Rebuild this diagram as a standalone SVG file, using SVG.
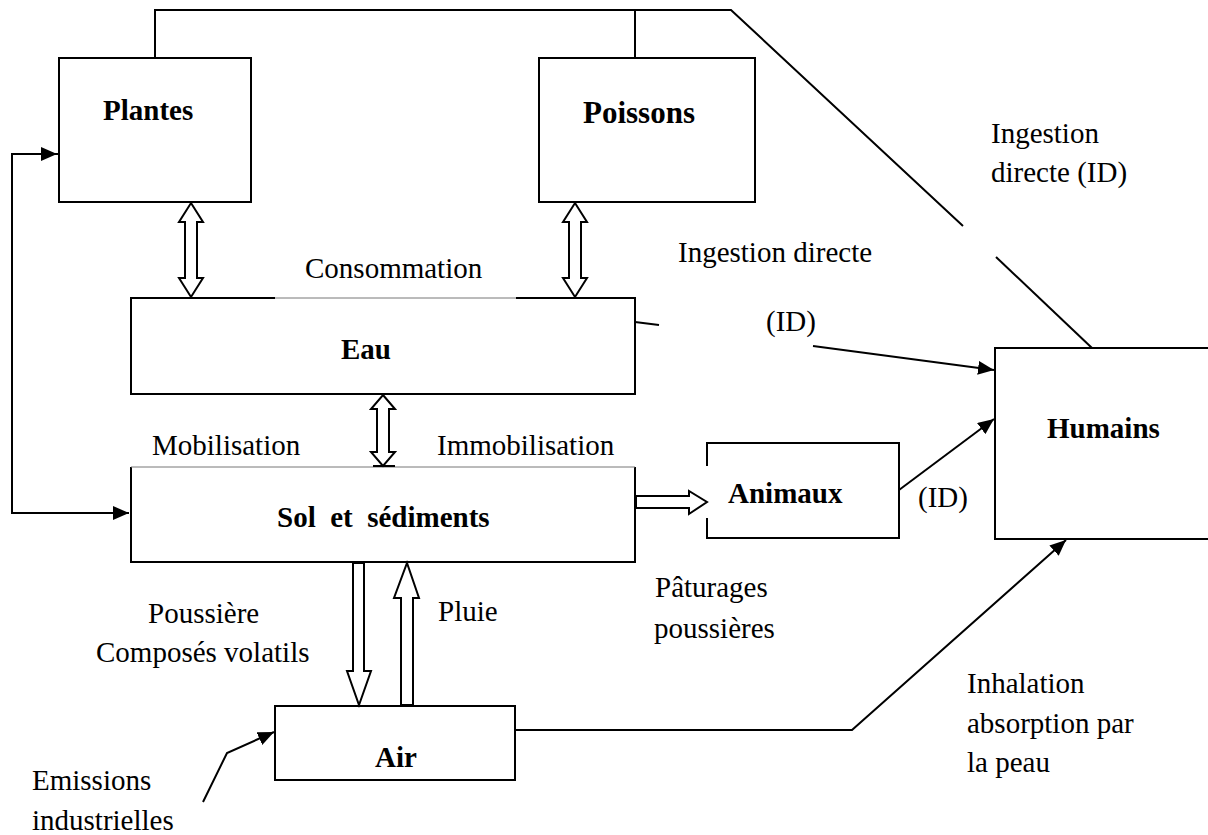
<svg xmlns="http://www.w3.org/2000/svg" width="1208" height="835" viewBox="0 0 1208 835">
<style>
text{font-family:"Liberation Serif","Times New Roman",serif;font-size:29px;fill:#000}
.b{font-weight:bold}
.box{fill:none;stroke:#000;stroke-width:2}
.thin{fill:none;stroke:#777;stroke-width:1}
.ln{fill:none;stroke:#000;stroke-width:2}
.blk{fill:#fff;stroke:#000;stroke-width:2;stroke-linejoin:miter}
</style>
<defs>
<marker id="ah" markerUnits="userSpaceOnUse" markerWidth="17" markerHeight="14" refX="16" refY="7" orient="auto">
<path d="M0,0 L16,7 L0,14 z" fill="#000"/>
</marker>
</defs>
<rect width="1208" height="835" fill="#fff"/>

<g id="connectors">
<path class="ln" d="M155,58 V10 H731 L963,226"/>
<path class="ln" d="M635,58 V10"/>
<path class="ln" d="M996,257 L1092,348"/>
<path class="ln" d="M59,154 H12 V513 H129" marker-end="url(#ah)"/>
<path class="ln" d="M12,154 H57" marker-end="url(#ah)"/>
<path class="ln" d="M635,322 L659,325"/>
<path class="ln" d="M813,346 L994,370" marker-end="url(#ah)"/>
<path class="ln" d="M899,490 L994,419" marker-end="url(#ah)"/>
<path class="ln" d="M515,730 H852 L1066,540" marker-end="url(#ah)"/>
<path class="ln" d="M203,802 L227,753 L274,732" marker-end="url(#ah)"/>
<polygon class="blk" points="191,203 203,222 197,222 197,278 203,278 191,297 179,278 185,278 185,222 179,222"/>
<polygon class="blk" points="575,203 587,222 581,222 581,278 587,278 575,297 563,278 569,278 569,222 563,222"/>
<polygon class="blk" points="383,395 395,409 389,409 389,452 395,452 383,466 371,452 377,452 377,409 371,409"/>
<polygon class="blk" points="353,563 364,563 364,671 371,671 359,705 347,671 353,671"/>
<polygon class="blk" points="401,705 413,705 413,598 419,598 407,563 394,598 401,598"/>
<polygon class="blk" points="636,496 689,496 689,491 707,502 689,514 689,508 636,508"/>
</g>

<g id="plantes">
<rect class="box" x="59" y="58" width="192" height="144"/>
<text class="b" x="103" y="120">Plantes</text>
</g>
<g id="poissons">
<rect class="box" x="539" y="58" width="216" height="144"/>
<text class="b" x="583" y="123" style="font-size:31px">Poissons</text>
</g>
<g id="eau">
<path class="box" d="M275,298 H131 V394 H635 V298 H516"/>
<path class="thin" d="M275,298 H516"/>
<text class="b" x="341" y="359">Eau</text>
</g>
<g id="sol">
<path class="box" d="M131,467 V562 H635 V467"/>
<path class="thin" d="M131,467 H635"/>
<path class="ln" d="M373,466 H395"/>
<text class="b" x="277" y="527" xml:space="preserve">Sol  et  sédiments</text>
</g>
<g id="animaux">
<path class="box" d="M707,466 V443 H899 V538 H707 V518"/>
<text class="b" x="728" y="503">Animaux</text>
</g>
<g id="humains">
<path class="box" d="M1212,348 H995 V539 H1212"/>
<text class="b" x="1047" y="438">Humains</text>
</g>
<g id="air">
<rect class="box" x="275" y="706" width="240" height="74"/>
<text class="b" x="375" y="767">Air</text>
</g>

<g id="labels">
<text x="991" y="143">Ingestion</text>
<text x="991" y="182">directe (ID)</text>
<text x="678" y="262">Ingestion directe</text>
<text x="766" y="331">(ID)</text>
<text x="305" y="278">Consommation</text>
<text x="152" y="455">Mobilisation</text>
<text x="437" y="455">Immobilisation</text>
<text x="918" y="507">(ID)</text>
<text x="655" y="597">Pâturages</text>
<text x="654" y="638">poussières</text>
<text x="148" y="623">Poussière</text>
<text x="96" y="662">Composés volatils</text>
<text x="438" y="621">Pluie</text>
<text x="32" y="790">Emissions</text>
<text x="32" y="830">industrielles</text>
<text x="967" y="693">Inhalation</text>
<text x="967" y="733">absorption par</text>
<text x="967" y="772">la peau</text>
</g>
</svg>
